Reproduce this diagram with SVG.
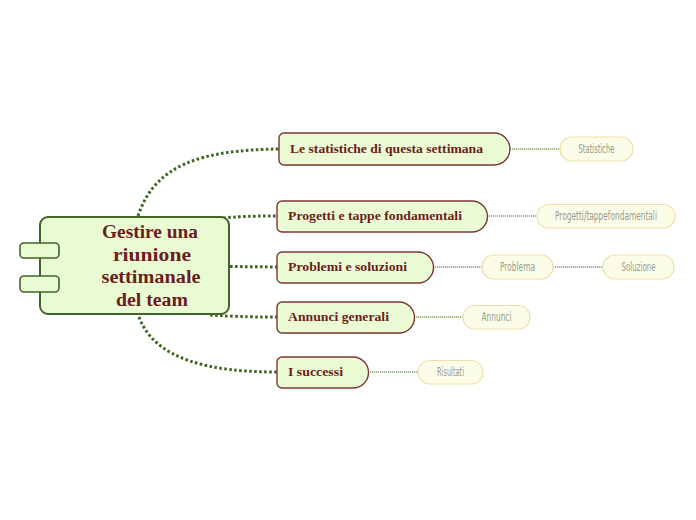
<svg xmlns="http://www.w3.org/2000/svg" width="696" height="520" viewBox="0 0 696 520">
<style>
.main{fill:#e9fbd3;stroke:#416526;stroke-width:2}
.tab{fill:#e9fbd3;stroke:#416526;stroke-width:1.6}
.br{fill:#ebfcd4;stroke:#7d3636;stroke-width:1.4}
.lf{fill:#fbfde9;stroke:#f0dfaa;stroke-width:1.2}
.mt{font-family:"Liberation Serif","DejaVu Serif",serif;font-weight:bold;font-size:18px;fill:#6e1d1d;text-anchor:middle}
.bt{font-family:"Liberation Serif","DejaVu Serif",serif;font-weight:bold;font-size:13px;fill:#6e1d1d}
.lt{font-family:"DejaVu Sans Condensed","Liberation Sans Narrow","Liberation Sans",sans-serif;font-stretch:condensed;font-size:12px;fill:#9a9a90;text-anchor:middle}
.thick{fill:none;stroke:#3e6a1f;stroke-width:3;stroke-dasharray:2.6 2.4}
.thin{fill:none;stroke:#4d6e2c;stroke-width:1;stroke-dasharray:1.2 0.8}
</style>
<rect width="696" height="520" fill="#ffffff"/>
<g id="connectors">
<path class="thick" d="M138,216 C155,165 200,150 279,149"/>
<path class="thick" d="M223,218 C245,216 260,216 277,216"/>
<path class="thick" d="M230,266.5 L277,267"/>
<path class="thick" d="M210,315 C240,317 260,317 277,317"/>
<path class="thick" d="M139,317 C155,360 210,372 277,372"/>
<path class="thin" d="M510,149 L560,149"/>
<path class="thin" d="M487,216 L537,216"/>
<path class="thin" d="M433,267 L482,267"/>
<path class="thin" d="M553,267 L603,267"/>
<path class="thin" d="M414,317 L463,317"/>
<path class="thin" d="M368,372 L418,372"/>
</g>
<g id="main">
<rect class="main" x="40" y="217" width="189" height="97" rx="8"/>
<rect class="tab" x="20" y="243" width="39" height="15" rx="4"/>
<rect class="tab" x="20" y="276" width="39" height="16" rx="4"/>
<text class="mt" x="150" y="238" textLength="96" lengthAdjust="spacingAndGlyphs">Gestire una</text>
<text class="mt" x="152" y="261" textLength="78" lengthAdjust="spacingAndGlyphs">riunione</text>
<text class="mt" x="151" y="283" textLength="99" lengthAdjust="spacingAndGlyphs">settimanale</text>
<text class="mt" x="152" y="306" textLength="72" lengthAdjust="spacingAndGlyphs">del team</text>
</g>
<g id="b1">
<path class="br" d="M284,133 H494 A16,16 0 0 1 494,165 H284 A5,5 0 0 1 279,160 V138 A5,5 0 0 1 284,133 Z"/>
<text class="bt" x="290" y="153" textLength="193" lengthAdjust="spacingAndGlyphs">Le statistiche di questa settimana</text>
</g>
<g id="b2">
<path class="br" d="M282,201 H472 A15.5,15.5 0 0 1 472,232 H282 A5,5 0 0 1 277,227 V206 A5,5 0 0 1 282,201 Z"/>
<text class="bt" x="288" y="220" textLength="174" lengthAdjust="spacingAndGlyphs">Progetti e tappe fondamentali</text>
</g>
<g id="b3">
<path class="br" d="M282,252 H418 A15.5,15.5 0 0 1 418,283 H282 A5,5 0 0 1 277,278 V257 A5,5 0 0 1 282,252 Z"/>
<text class="bt" x="288" y="271" textLength="119" lengthAdjust="spacingAndGlyphs">Problemi e soluzioni</text>
</g>
<g id="b4">
<path class="br" d="M282,302 H399 A15.5,15.5 0 0 1 399,333 H282 A5,5 0 0 1 277,328 V307 A5,5 0 0 1 282,302 Z"/>
<text class="bt" x="288" y="321" textLength="101" lengthAdjust="spacingAndGlyphs">Annunci generali</text>
</g>
<g id="b5">
<path class="br" d="M282,357 H353 A15.5,15.5 0 0 1 353,388 H282 A5,5 0 0 1 277,383 V362 A5,5 0 0 1 282,357 Z"/>
<text class="bt" x="288" y="376" textLength="55" lengthAdjust="spacingAndGlyphs">I successi</text>
</g>
<g id="l1">
<rect class="lf" x="560" y="137" width="73" height="24" rx="12"/>
<text class="lt" x="596.5" y="153" textLength="36" lengthAdjust="spacingAndGlyphs">Statistiche</text>
</g>
<g id="l2">
<rect class="lf" x="537" y="204.5" width="138" height="23.5" rx="11.75"/>
<text class="lt" x="606" y="220" font-size="10.5" textLength="102" lengthAdjust="spacingAndGlyphs">Progetti/tappefondamentali</text>
</g>
<g id="l3">
<rect class="lf" x="482" y="255" width="71" height="24" rx="12"/>
<text class="lt" x="517.5" y="271" textLength="35" lengthAdjust="spacingAndGlyphs">Problema</text>
</g>
<g id="l4">
<rect class="lf" x="603" y="255" width="71" height="24" rx="12"/>
<text class="lt" x="638.5" y="271" textLength="34" lengthAdjust="spacingAndGlyphs">Soluzione</text>
</g>
<g id="l5">
<rect class="lf" x="463" y="305.5" width="67" height="23.5" rx="11.75"/>
<text class="lt" x="496.5" y="321" textLength="30" lengthAdjust="spacingAndGlyphs">Annunci</text>
</g>
<g id="l6">
<rect class="lf" x="418" y="360.5" width="65" height="23.5" rx="11.75"/>
<text class="lt" x="450.5" y="376" textLength="27" lengthAdjust="spacingAndGlyphs">Risultati</text>
</g>
</svg>
